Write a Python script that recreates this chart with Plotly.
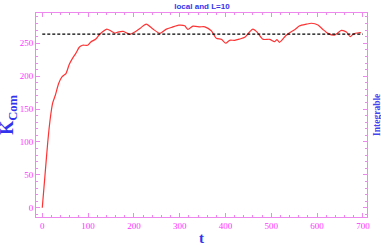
import plotly.graph_objects as go

t_vals = [0, 6, 12, 17.5, 22.6, 28.5, 35.7, 43, 51.7, 59, 66, 73.5, 80.7, 88, 99, 106, 117, 124, 131.7, 141,
          150, 158.5, 165, 176.7, 191, 202, 214, 227, 241, 256.6, 271, 284, 298, 311, 318, 329, 344, 355,
          369, 380, 391, 400.6, 409, 420, 431, 442, 453, 460, 469, 482, 496.5, 507, 512.5, 518, 531,
          540, 551, 562, 576.6, 587.5, 602, 612.7, 623.6, 638, 653, 664, 672.5, 679.7, 691, 696]
k_vals = [0, 50, 100, 136, 159, 171, 189, 199, 204, 218, 227, 235, 244, 247, 247, 252, 256.5, 262.6, 267.6, 271.5,
          268.7, 265.5, 267, 268, 263.5, 267, 273, 279, 272, 265, 271.5, 274.5, 277.5, 276.5, 271, 276, 275, 275,
          269, 257.6, 256, 250, 254.5, 254.5, 256.5, 259, 267.6, 271.5, 267, 256, 256, 252.5, 255.5, 251.5, 261,
          266, 270.5, 276.5, 279, 280.4, 277.8, 271, 265, 262.3, 269.5, 267, 260, 264.5, 266, 266]
ref_level = 264
x_ticks = [0, 100, 200, 300, 400, 500, 600, 700]
y_ticks = [0, 50, 100, 150, 200, 250]

pink = "#ee88ee"
mag = "#ff33ff"
blue = "#3333ee"

fig = go.Figure()
fig.add_trace(go.Scatter(x=t_vals, y=k_vals, mode="lines", line=dict(color="#ff3333", width=1.2, shape="spline", smoothing=0.6),
                         showlegend=False, hoverinfo="skip"))
fig.add_trace(go.Scatter(x=[0, 700], y=[ref_level, ref_level], mode="lines",
                         line=dict(color="black", width=1.2, dash="3px,2px"), showlegend=False, hoverinfo="skip"))

axis_common = dict(showgrid=False, zeroline=False, showline=True, linecolor=pink, linewidth=1,
                   mirror="allticks", ticks="inside", ticklen=4, tickcolor=pink, tickwidth=1,
                   tickfont=dict(family="Liberation Serif", size=9, color=mag))

fig.update_layout(
    width=381, height=245,
    margin=dict(l=36, r=14, t=13, b=28),
    paper_bgcolor="white", plot_bgcolor="white",
    title=dict(text="<b>local and L=10</b>", x=0.53, xanchor="center", y=0.985, yanchor="top",
               font=dict(family="Liberation Sans", size=8, color=blue)),
    xaxis=dict(range=[-13.7, 709], tickvals=x_ticks,
               minor=dict(ticks="inside", ticklen=2, tickcolor=pink, dtick=20, tick0=0),
               **axis_common),
    yaxis=dict(range=[-14, 296], tickvals=y_ticks,
               minor=dict(ticks="inside", ticklen=2, tickcolor=pink, dtick=10, tick0=0),
               **axis_common),
)

fig.add_annotation(text="<b>t</b>", xref="paper", yref="paper", x=0.5, y=-0.103, yanchor="middle", showarrow=False,
                   font=dict(family="Liberation Serif", size=15, color=blue))
fig.add_annotation(text="<b>K<sub>Com</sub></b>", xref="paper", x=-0.085, xanchor="center", yref="paper", y=0.5,
                   textangle=-90, showarrow=False, font=dict(family="Liberation Serif", size=18, color=blue))
fig.add_annotation(text="<b>Integrable</b>", xref="paper", x=1.03, xanchor="center", yref="paper", y=0.5,
                   textangle=-90, showarrow=False, font=dict(family="Liberation Serif", size=9.5, color="#4444ee"))

fig.write_html("out.html", config={"displayModeBar": False},
               post_script="document.body.style.margin='0';")
